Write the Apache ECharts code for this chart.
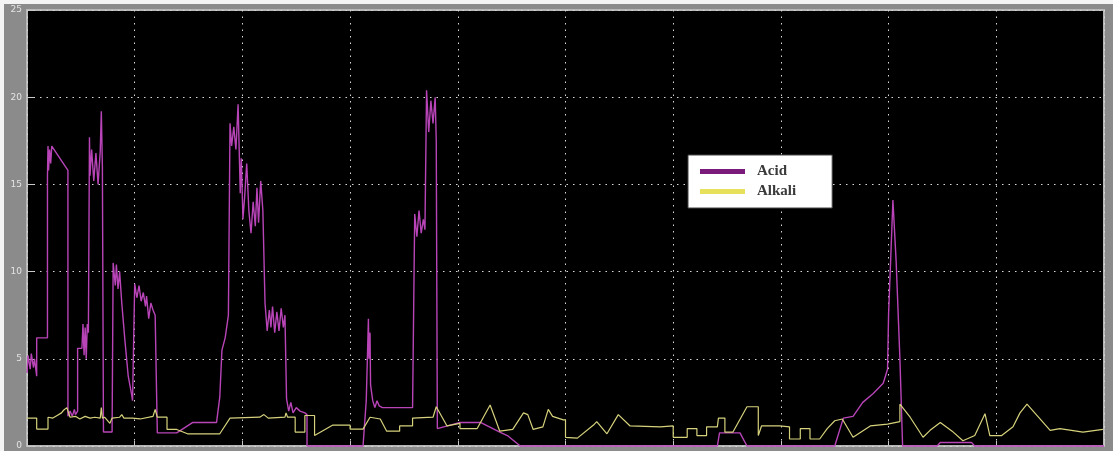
<!DOCTYPE html>
<html>
<head>
<meta charset="utf-8">
<script src="https://cdn.jsdelivr.net/npm/echarts@6/dist/echarts.min.js"></script>
<style>
  html, body { margin: 0; padding: 0; background: #f4f4f4; }
  #scope { position: absolute; left: 4px; top: 4px; width: 1109px; height: 447px; }
</style>
</head>
<body>
<div id="scope"></div>
<script>
// values (time axis 0..10)
var acidTime = [0.00,0.01,0.03,0.04,0.06,0.07,0.09,0.09,0.19,0.19,0.195,0.20,0.21,0.22,0.23,0.38,0.38,0.40,0.42,0.44,0.45,0.47,0.47,0.51,0.52,0.53,0.54,0.55,0.56,0.57,0.58,0.585,0.60,0.62,0.64,0.66,0.68,0.69,0.70,0.71,0.79,0.80,0.82,0.83,0.845,0.86,0.88,0.91,0.94,0.97,0.98,1.00,1.02,1.04,1.06,1.08,1.10,1.11,1.13,1.15,1.17,1.19,1.21,1.39,1.54,1.76,1.79,1.81,1.84,1.87,1.885,1.90,1.92,1.94,1.96,1.98,1.99,2.005,2.02,2.04,2.06,2.08,2.10,2.12,2.135,2.15,2.17,2.19,2.21,2.23,2.25,2.265,2.28,2.30,2.32,2.34,2.36,2.38,2.395,2.41,2.43,2.45,2.47,2.50,2.535,2.58,2.60,2.60,3.12,3.15,3.17,3.175,3.185,3.19,3.21,3.23,3.25,3.27,3.30,3.58,3.60,3.62,3.64,3.66,3.68,3.695,3.71,3.73,3.75,3.77,3.79,3.80,3.81,3.93,4.02,4.21,4.39,4.46,4.58,6.41,6.43,6.62,6.685,7.50,7.58,7.67,7.76,7.855,7.95,7.99,8.00,8.02,8.04,8.07,8.105,8.13,8.45,8.48,8.77,8.80,10.00];
var acidLevel = [4.2,5.2,4.4,5.3,4.5,5.0,4.0,6.2,6.2,15.5,17.2,15.8,17.0,16.2,17.2,15.8,1.7,2.0,1.7,2.1,1.8,2.0,5.6,5.6,7.0,5.2,6.8,5.0,7.0,6.5,17.7,15.5,17.0,15.2,16.8,15.0,16.9,19.2,16.0,0.8,0.8,10.5,9.2,10.4,9.0,10.0,8.2,6.0,4.0,3.0,2.6,9.3,8.5,9.2,8.3,8.8,8.0,8.6,7.3,8.2,7.8,7.5,0.75,0.75,1.35,1.35,2.8,5.5,6.2,7.5,18.5,17.2,18.3,17.0,19.6,14.5,16.5,13.0,14.2,16.2,13.5,12.2,14.0,12.6,14.8,12.8,15.2,13.5,8.2,6.6,7.8,6.8,8.0,6.5,7.7,6.6,7.9,6.8,7.5,2.7,2.0,2.5,1.9,2.2,2.0,1.9,1.8,0,0,2.6,7.3,5.0,6.5,3.5,2.6,2.2,2.6,2.3,2.2,2.2,13.3,12.0,13.5,12.2,13.0,12.4,20.4,18.0,19.8,18.5,20.0,17.5,1.0,1.2,1.35,1.35,0.8,0.6,0,0,0.75,0.75,0,0,1.6,1.7,2.5,3.0,3.6,4.4,7.6,10.8,14.1,10.6,5.0,0,0,0.2,0.2,0,0];

var alkaliTime = [0,0.09,0.09,0.195,0.195,0.24,0.28,0.32,0.34,0.37,0.38,0.40,0.45,0.49,0.54,0.585,0.63,0.68,0.69,0.70,0.72,0.77,0.79,0.86,0.88,0.90,0.98,1.05,1.17,1.19,1.21,1.26,1.30,1.30,1.39,1.49,1.79,1.885,2.16,2.20,2.24,2.395,2.405,2.42,2.49,2.49,2.58,2.58,2.67,2.67,2.84,3.00,3.00,3.12,3.185,3.28,3.34,3.46,3.46,3.58,3.58,3.77,3.80,3.90,4.02,4.02,4.18,4.30,4.39,4.51,4.61,4.65,4.70,4.79,4.84,4.88,4.98,5.00,5.00,5.11,5.26,5.29,5.385,5.49,5.60,5.88,6.00,6.00,6.13,6.13,6.22,6.22,6.31,6.31,6.41,6.42,6.48,6.48,6.555,6.685,6.79,6.79,6.82,6.99,7.08,7.08,7.18,7.18,7.27,7.27,7.36,7.43,7.50,7.57,7.58,7.67,7.67,7.83,7.99,8.105,8.105,8.20,8.20,8.32,8.385,8.385,8.48,8.48,8.59,8.59,8.69,8.69,8.80,8.80,8.895,8.895,8.94,9.05,9.155,9.22,9.285,9.29,9.50,9.50,9.59,9.59,9.805,9.805,9.99];
var alkaliLevel = [1.6,1.6,0.97,0.97,1.65,1.6,1.75,1.9,2.05,2.2,2.3,1.65,1.7,1.55,1.7,1.6,1.65,1.6,2.2,1.6,1.65,1.3,1.6,1.65,1.8,1.6,1.6,1.55,1.7,2.1,1.65,1.65,1.65,0.95,0.95,0.7,0.7,1.6,1.65,1.8,1.6,1.65,1.9,1.65,1.65,0.8,0.8,1.75,1.75,0.6,1.2,1.2,0.97,0.97,1.65,1.55,0.85,0.85,1.15,1.15,1.6,1.65,2.25,1.15,1.3,1.0,1.0,2.35,0.85,0.95,1.9,1.8,0.95,1.1,2.1,1.7,1.5,1.5,0.5,0.45,1.2,1.4,0.7,1.8,1.15,1.1,1.15,0.5,0.5,1.0,1.0,0.6,0.6,1.1,1.1,1.6,1.6,0.8,0.8,2.25,2.25,0.6,1.15,1.15,1.1,0.4,0.4,1.0,1.0,0.4,0.4,1.0,1.45,1.55,1.6,0.5,0.5,1.15,1.25,1.4,2.4,1.65,1.65,0.5,0.9,0.95,1.35,1.35,0.85,0.85,0.3,0.3,0.6,0.6,1.85,1.85,0.6,0.6,1.1,1.9,2.4,2.4,0.9,0.9,1.0,1.0,0.8,0.8,0.95,0.95];

var yTicks = [0, 5, 10, 15, 20, 25];

function pairs(t, v) {
  var out = [];
  for (var i = 0; i < t.length; i++) out.push([t[i], v[i]]);
  return out;
}

var chart = echarts.init(document.getElementById('scope'));
var dotted = { color: '#d8d8d8', width: 1, type: [1.5, 5] };

chart.setOption({
  backgroundColor: '#8b8b8b',
  animation: false,
  grid: {
    left: 23, top: 6, right: 9, bottom: 5,
    show: true, backgroundColor: '#000', borderColor: '#b8b8b8', borderWidth: 2
  },
  legend: {
    orient: 'vertical',
    left: 684, top: 151,
    backgroundColor: '#fff',
    borderColor: '#444', borderWidth: 1,
    padding: [8, 36, 8, 12],
    itemGap: 3,
    itemWidth: 45, itemHeight: 5,
    icon: 'rect',
    textStyle: { fontFamily: 'Liberation Serif', fontSize: 15, fontWeight: 'bold', color: '#3a3a3a', lineHeight: 17, padding: [0, 0, 0, 7] },
    data: [
      { name: 'Acid', itemStyle: { color: '#7a1a7a' }, lineStyle: { color: '#7a1a7a' } },
      { name: 'Alkali', itemStyle: { color: '#e6e05a' }, lineStyle: { color: '#e6e05a' } }
    ]
  },
  xAxis: {
    type: 'value', min: 0, max: 10, interval: 1,
    axisLine: { show: false },
    axisTick: { show: true, inside: true, length: 5, lineStyle: { color: '#c8c8c8' } },
    axisLabel: { show: false },
    splitLine: { show: true, lineStyle: dotted }
  },
  yAxis: {
    type: 'value', min: yTicks[0], max: yTicks[yTicks.length - 1], interval: 5,
    axisLine: { show: false },
    axisTick: { show: true, inside: true, length: 7, lineStyle: { color: '#c8c8c8' } },
    axisLabel: { color: '#e4e4e4', fontSize: 9, fontFamily: 'DejaVu Sans', margin: 5 },
    splitLine: { show: true, lineStyle: dotted }
  },
  series: [
    {
      name: 'Acid', type: 'line', showSymbol: false, clip: false,
      data: pairs(acidTime, acidLevel),
      lineStyle: { color: '#b844b8', width: 1.4 },
      itemStyle: { color: '#b844b8' }
    },
    {
      name: 'Alkali', type: 'line', showSymbol: false,
      data: pairs(alkaliTime, alkaliLevel),
      lineStyle: { color: '#d6d27c', width: 1.2 },
      itemStyle: { color: '#d6d27c' }
    }
  ]
});
</script>
</body>
</html>
